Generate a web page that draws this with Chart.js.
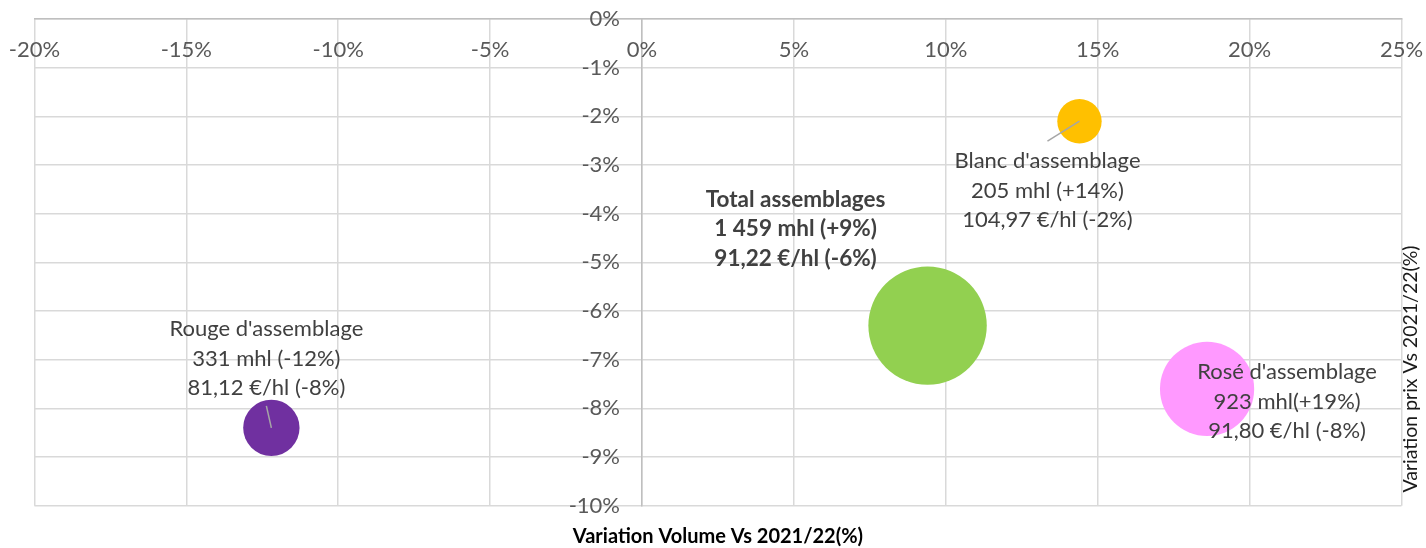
<!DOCTYPE html>
<html>
<head>
<meta charset="utf-8">
<script src="https://cdn.jsdelivr.net/npm/chart.js@4.4.0/dist/chart.umd.min.js"></script>
<style>
  html, body { margin: 0; padding: 0; background: #fff; }
  #wrap { width: 1426px; height: 548px; }
</style>
</head>
<body>
<div id="wrap"><canvas id="myChart" width="1426" height="548"></canvas></div>
<script>
// data
const categories = ["Rouge d'assemblage", "Blanc d'assemblage", "Total assemblages", "Rosé d'assemblage"];
const volumeVar = [-12.2, 14.4, 9.4, 18.6];   // variation volume vs 2021/22 (%)
const priceVar = [-8.4, -2.1, -6.3, -7.6];     // variation prix vs 2021/22 (%)
const volumes = [331, 205, 1459, 923];         // mhl
const volumeText = ["331 mhl (-12%)", "205 mhl (+14%)", "1 459 mhl (+9%)", "923 mhl(+19%)"];
const priceText = ["81,12 €/hl (-8%)", "104,97 €/hl (-2%)", "91,22 €/hl (-6%)", "91,80 €/hl (-8%)"];
const colors = ["#7030A0", "#FFC000", "#92D050", "#FF99FF"];
const xTicks = [-20, -15, -10, -5, 0, 5, 10, 15, 20, 25];
const yTicks = [0, -1, -2, -3, -4, -5, -6, -7, -8, -9, -10];

const bubbleScale = 1.55; // px per sqrt(mhl)
const FONT = "Lato";

// label placement relative to bubble centre (first line centre), leader line start
const labelPos = [
  { dx: -5, dy: -99.5, lead: [-5, -22] },
  { dx: -32, dy: 39, lead: [-32, 20] },
  { dx: -132, dy: -126.5, lead: null },
  { dx: 80, dy: -17.5, lead: null }
];

// tick labels: axes cross in the middle of the plot, so they are drawn here
// from the scales' own ticks
const tickLabels = {
  id: "tickLabels",
  afterDraw(chart) {
    const ctx = chart.ctx;
    const xs = chart.scales.x, ys = chart.scales.y;
    const y0 = ys.getPixelForValue(0);
    const x0 = xs.getPixelForValue(0);
    ctx.save();
    ctx.font = "22px " + FONT;
    ctx.fillStyle = "#595959";
    ctx.textBaseline = "middle";
    ctx.textAlign = "center";
    xs.ticks.forEach(function (t) {
      ctx.fillText(Math.round(t.value) + "%", xs.getPixelForValue(t.value), y0 + 30.5);
    });
    ctx.textAlign = "right";
    ys.ticks.forEach(function (t) {
      ctx.fillText(Math.round(t.value) + "%", x0 - 22, ys.getPixelForValue(t.value));
    });
    ctx.restore();
  }
};

const bubbleLabels = {
  id: "bubbleLabels",
  afterDraw(chart) {
    const ctx = chart.ctx;
    const meta = chart.getDatasetMeta(0);
    ctx.save();
    meta.data.forEach(function (pt, i) {
      const p = labelPos[i];
      if (p.lead) {
        ctx.strokeStyle = "#A6A6A6";
        ctx.lineWidth = 1.5;
        ctx.beginPath();
        ctx.moveTo(pt.x + p.lead[0], pt.y + p.lead[1]);
        ctx.lineTo(pt.x, pt.y);
        ctx.stroke();
      }
      const lines = [categories[i], volumeText[i], priceText[i]];
      ctx.font = (i == 2 ? "bold 22.5px " : "22px ") + FONT;
      ctx.fillStyle = "#404040";
      ctx.textAlign = "center";
      ctx.textBaseline = "alphabetic";
      for (let k = 0; k < lines.length; k++) {
        ctx.fillText(lines[k], pt.x + p.dx, pt.y + p.dy + k * 29.3 + 8);
      }
    });
    ctx.restore();
  }
};

const axisTitles = {
  id: "axisTitles",
  afterDraw(chart) {
    const ctx = chart.ctx;
    const a = chart.chartArea;
    ctx.save();
    ctx.fillStyle = "#000";
    ctx.textAlign = "center";
    ctx.textBaseline = "middle";
    ctx.font = "bold 20px " + FONT;
    ctx.fillText("Variation Volume Vs 2021/22(%)", (a.left + a.right) / 2, a.bottom + 31);
    ctx.font = "19.5px " + FONT;
    ctx.fillStyle = "#1a1a1a";
    ctx.translate(a.right + 9, 369);
    ctx.rotate(-Math.PI / 2);
    ctx.fillText("Variation prix Vs 2021/22(%)", 0, 0);
    ctx.restore();
  }
};

const ctx = document.getElementById("myChart").getContext("2d");
const myChart = new Chart(ctx, {
  type: "bubble",
  data: {
    datasets: [{
      label: "assemblages",
      data: categories.map(function (c, i) {
        return { x: volumeVar[i], y: priceVar[i], r: bubbleScale * Math.sqrt(volumes[i]) };
      }),
      backgroundColor: colors,
      borderWidth: 0,
      hoverRadius: 0
    }]
  },
  options: {
    responsive: false,
    devicePixelRatio: 1,
    animation: false,
    events: [],
    layout: { autoPadding: false, padding: { left: 34.4, right: 24.5, top: 19, bottom: 42.3 } },
    plugins: { legend: { display: false }, tooltip: { enabled: false } },
    scales: {
      x: {
        type: "linear",
        min: xTicks[0],
        max: xTicks[xTicks.length - 1],
        position: { y: 0 },
        afterBuildTicks: function (s) { s.ticks = xTicks.map(v => ({ value: v })); },
        ticks: { display: false },
        grid: { color: "#D9D9D9", lineWidth: 1.5, drawTicks: false },
        border: { color: "#BFBFBF", width: 1.5 }
      },
      y: {
        type: "linear",
        min: yTicks[yTicks.length - 1],
        max: yTicks[0],
        position: { x: 0 },
        afterBuildTicks: function (s) { s.ticks = yTicks.map(v => ({ value: v })); },
        ticks: { display: false },
        grid: { color: "#D9D9D9", lineWidth: 1.5, drawTicks: false },
        border: { color: "#BFBFBF", width: 1.5 }
      }
    }
  },
  plugins: [tickLabels, bubbleLabels, axisTitles]
});
</script>
</body>
</html>
